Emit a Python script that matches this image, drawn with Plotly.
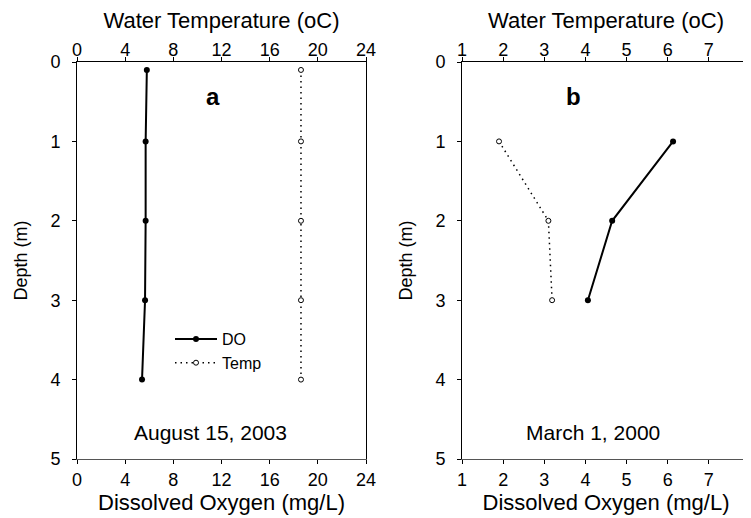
import plotly.graph_objects as go

# Panel a: August 15, 2003
a_depth = [0.1, 1, 2, 3, 4]
a_do = [5.8, 5.7, 5.7, 5.65, 5.4]
a_temp = [18.6, 18.6, 18.6, 18.6, 18.6]

# Panel b: March 1, 2000
b_depth = [1, 2, 3]
b_do = [6.13, 4.65, 4.06]
b_temp = [1.9, 3.1, 3.19]

a_ticks = [0, 4, 8, 12, 16, 20, 24]
b_ticks = [1, 2, 3, 4, 5, 6, 7, 8]
depth_ticks = [0, 1, 2, 3, 4, 5]

W, H = 751, 518
OFF = 8  # page body margin offset
REF_TOP, REF_BOT = 62, 459
TOP, BOT = REF_TOP - OFF, REF_BOT - OFF
FONT = "Liberation Sans, Arial, sans-serif"
TICK = 18
TITLE = 22


def px_to_depth(py):
    return (py - REF_TOP) / (REF_BOT - REF_TOP) * 5


def fx(px):
    return (px - OFF) / W


fig = go.Figure()

do_line = dict(color="black", width=2)
do_marker = dict(color="black", size=6, symbol="circle")
t_line = dict(color="black", width=1.5, dash="1.5px,4px")
t_marker = dict(color="white", size=5, symbol="circle", line=dict(color="black", width=1))

fig.add_trace(go.Scatter(x=a_do, y=a_depth, mode="lines+markers", name="DO",
                         line=do_line, marker=do_marker,
                         xaxis="x", yaxis="y", showlegend=True))
fig.add_trace(go.Scatter(x=a_temp, y=a_depth, mode="lines+markers", name="Temp",
                         line=t_line, marker=t_marker,
                         xaxis="x3", yaxis="y", showlegend=True))
fig.add_trace(go.Scatter(x=b_do, y=b_depth, mode="lines+markers", name="DO",
                         line=do_line, marker=do_marker,
                         xaxis="x2", yaxis="y2", showlegend=False))
fig.add_trace(go.Scatter(x=b_temp, y=b_depth, mode="lines+markers", name="Temp",
                         line=t_line, marker=t_marker,
                         xaxis="x4", yaxis="y2", showlegend=False))

dom_a = [fx(77), fx(366)]
dom_b = [fx(462), fx(750)]

common_x = dict(ticks="outside", ticklen=4, tickcolor="black", showgrid=False,
                zeroline=False, showline=True, linewidth=1, automargin=False,
                tickfont=dict(size=TICK, color="black", family=FONT),
                title_font=dict(size=TITLE, color="black", family=FONT))
common_y = dict(ticks="outside", ticklen=4, tickcolor="black", showgrid=False,
                zeroline=False, showline=True, linecolor="black", linewidth=1,
                mirror=True, range=[5, 0], tickvals=depth_ticks, automargin=False,
                tickfont=dict(size=TICK, color="black", family=FONT),
                title=dict(text="Depth (m)", font=dict(size=18, color="black", family=FONT),
                           standoff=18),
                ticklabelstandoff=8)

fig.update_layout(
    width=W, height=H,
    margin=dict(l=0, r=0, t=TOP, b=H - BOT),
    paper_bgcolor="white", plot_bgcolor="white",
    font=dict(family=FONT, color="black"),
    xaxis=dict(domain=dom_a, range=[0, 24], tickvals=a_ticks, anchor="y",
               linecolor="#555555", title=dict(text="Dissolved Oxygen (mg/L)", standoff=0),
               ticklabelstandoff=0, **common_x),
    xaxis3=dict(domain=dom_a, range=[0, 24], tickvals=a_ticks, anchor="y",
                overlaying="x", side="top", linecolor="black",
                title=dict(text="Water Temperature (oC)", standoff=6),
                ticklabelstandoff=-6, **common_x),
    xaxis2=dict(domain=dom_b, range=[1, 8], tickvals=b_ticks, anchor="y2",
                linecolor="#555555", title=dict(text="Dissolved Oxygen (mg/L)", standoff=0),
                ticklabelstandoff=0, **common_x),
    xaxis4=dict(domain=dom_b, range=[1, 8], tickvals=b_ticks, anchor="y2",
                overlaying="x2", side="top", linecolor="black",
                title=dict(text="Water Temperature (oC)", standoff=6),
                ticklabelstandoff=-6, **common_x),
    yaxis=dict(domain=[0, 1], anchor="x", **common_y),
    yaxis2=dict(domain=[0, 1], anchor="x2", **common_y),
    legend=dict(x=fx(170), y=1 - (322 - REF_TOP) / (REF_BOT - REF_TOP),
                xanchor="left", yanchor="top", itemwidth=42,
                bgcolor="rgba(0,0,0,0)", font=dict(size=16, color="black", family=FONT),
                tracegroupgap=0),
    annotations=[
        dict(text="<b>a</b>", x=fx(213), y=px_to_depth(96), xref="paper", yref="y",
             xanchor="center", showarrow=False, font=dict(size=24, color="black", family=FONT)),
        dict(text="<b>b</b>", x=fx(573), y=px_to_depth(96), xref="paper", yref="y2",
             xanchor="center", showarrow=False, font=dict(size=24, color="black", family=FONT)),
        dict(text="August 15, 2003", x=fx(210), y=px_to_depth(432), xref="paper", yref="y",
             xanchor="center", showarrow=False, font=dict(size=21, color="black", family=FONT)),
        dict(text="March 1, 2000", x=fx(593), y=px_to_depth(432), xref="paper", yref="y2",
             xanchor="center", showarrow=False, font=dict(size=21, color="black", family=FONT)),
    ],
)

fig.write_html("out.html")
